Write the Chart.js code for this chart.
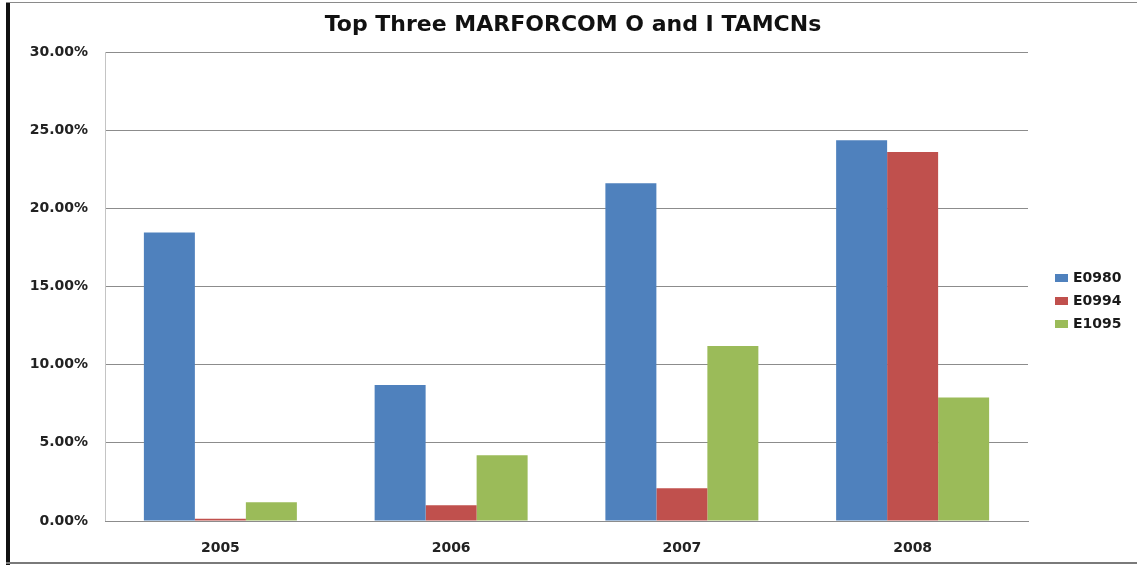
<!DOCTYPE html>
<html>
<head>
<meta charset="utf-8">
<title>Top Three MARFORCOM O and I TAMCNs</title>
<script src="https://cdn.jsdelivr.net/npm/chart.js@4/dist/chart.umd.min.js"></script>
<style>
    html, body { margin: 0; padding: 0; background: #fff; }
    #wrap { position: relative; width: 1137px; height: 565px; overflow: hidden; }
    #myChart { position: absolute; left: 0; top: 0; }
    .edge { position: absolute; }
</style>
</head>
<body>
<div id="wrap">
    <canvas id="myChart" width="1137" height="565"></canvas>
    <!-- ramen runt diagrammet -->
    <div class="edge" style="left:6px; top:2px; width:4px; height:563px; background:#111;"></div>
    <div class="edge" style="left:6px; top:2px; width:1131px; height:1px; background:#8a8a8a;"></div>
    <div class="edge" style="left:6px; top:562px; width:1131px; height:2px; background:#7a7a7a;"></div>
</div>
<script>
//År på X-axeln
const years = ["2005", "2006", "2007", "2008"];

//Andel per TAMCN (procent)
const e0980 = [18.45, 8.7, 21.6, 24.35];
const e0994 = [0.15, 1.0, 2.1, 23.6];
const e1095 = [1.2, 4.2, 11.2, 7.9];

const seriesNames = ["E0980", "E0994", "E1095"];
const seriesColors = ["#4F81BD", "#C0504D", "#9BBB59"];
const chartTitle = "Top Three MARFORCOM O and I TAMCNs";

const tickFont = { family: "DejaVu Sans", size: 14, weight: "bold" };

//Titel och legend ritas för hand så de hamnar rätt
const titleAndLegend = {
    id: "titleAndLegend",
    afterDraw(chart) {
        const c = chart.ctx;
        c.save();
        c.fillStyle = "#111";
        c.font = "bold 22px 'DejaVu Sans'";
        c.textAlign = "center";
        c.textBaseline = "alphabetic";
        c.fillText(chartTitle, 573, 31);

        c.font = "bold 14px 'DejaVu Sans'";
        c.textBaseline = "middle";
        c.textAlign = "left";
        chart.data.datasets.forEach((ds, i) => {
            const y = 278 + i * 23;
            c.fillStyle = ds.backgroundColor;
            c.fillRect(1055, y - 4, 13, 8);
            c.fillStyle = "#1a1a1a";
            c.fillText(ds.label, 1073, y);
        });
        c.restore();
    }
};

const ctx = document.getElementById("myChart").getContext("2d");

let data = {
    labels: years,
    datasets: [
        { label: seriesNames[0], data: e0980, backgroundColor: seriesColors[0] },
        { label: seriesNames[1], data: e0994, backgroundColor: seriesColors[1] },
        { label: seriesNames[2], data: e1095, backgroundColor: seriesColors[2] },
    ],
};

const config = {
    type: "bar",
    data: data,
    options: {
        responsive: false,
        animation: false,
        layout: { padding: { left: 10, right: 109, top: 52, bottom: 8 } },
        datasets: {
            bar: { categoryPercentage: 0.663, barPercentage: 1.0, borderWidth: 0 }
        },
        plugins: {
            legend: { display: false },
            tooltip: { enabled: false },
            title: { display: false }
        },
        scales: {
            y: {
                min: 0,
                max: 30,
                afterFit(scale) { scale.width = 95; },
                ticks: {
                    stepSize: 5,
                    padding: 17,
                    color: "#222",
                    font: tickFont,
                    callback: function(value) {
                        return value.toFixed(2) + "%";
                    }
                },
                grid: { color: "#8c8c8c", drawTicks: false },
                border: { color: "#c4c4c4" }
            },
            x: {
                afterFit(scale) { scale.height = 36; },
                ticks: { padding: 19, color: "#222", font: tickFont },
                grid: { display: false, drawTicks: false },
                border: { color: "#8c8c8c" }
            }
        }
    },
    plugins: [titleAndLegend]
};

//Skapar grafen
let myChart = new Chart(ctx, config);
</script>
</body>
</html>
